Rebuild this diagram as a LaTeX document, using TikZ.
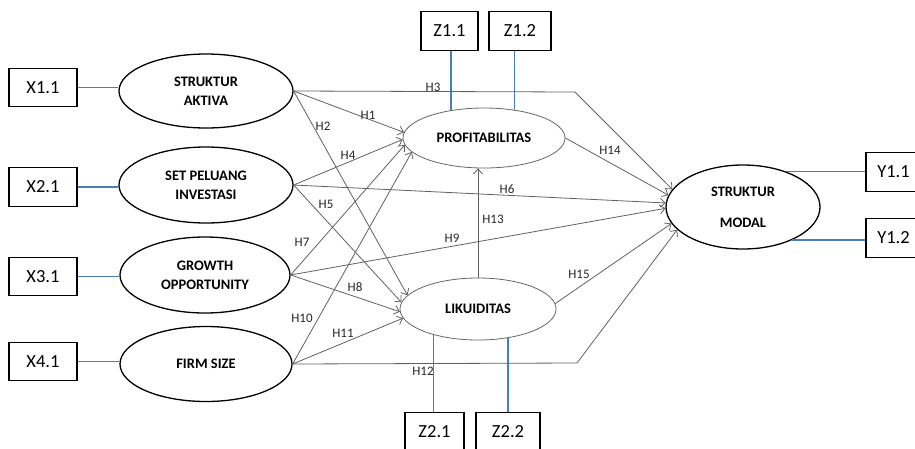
\documentclass[tikz,border=0pt]{standalone}
\usepackage{fontspec}
\setmainfont{Carlito}
\usetikzlibrary{shapes.geometric,arrows.meta}
\definecolor{loadblue}{HTML}{4A7EBB}
\begin{document}
\begin{tikzpicture}[x=1pt,y=-1pt,
    latent/.style={ellipse,draw,line width=1.3pt,inner sep=0pt,align=center,
      font=\fontsize{14.5}{19}\selectfont\bfseries},
    mediator/.style={latent,draw=black!60,line width=0.8pt},
    indicator/.style={draw,line width=1.2pt,inner sep=0pt,minimum height=38.5pt,
      font=\fontsize{18.5}{20}\selectfont},
    path/.style={draw=black!62,line width=0.8pt,-{Straight Barb[length=5pt,width=9pt]}},
    loading/.style={draw=loadblue,line width=1.5pt},
    hyp/.style={inner sep=1pt,text=black!85,font=\fontsize{13}{13}\selectfont}]
  \useasboundingbox (0,0) rectangle (915,448);
  % constructs
  \node[latent,minimum width=174pt,minimum height=74pt] (sa) at (206,91) {STRUKTUR\\AKTIVA};
  \node[latent,minimum width=174pt,minimum height=76pt] (spi) at (206,185) {SET PELUANG\\INVESTASI};
  \node[latent,minimum width=170pt,minimum height=76pt] (go) at (205,275) {GROWTH\\OPPORTUNITY};
  \node[latent,minimum width=172pt,minimum height=75pt] (fs) at (206,364) {FIRM SIZE};
  \node[mediator,minimum width=162pt,minimum height=60pt] (prof) at (484,138) {PROFITABILITAS};
  \node[mediator,minimum width=156pt,minimum height=62pt] (lik) at (478,309) {LIKUIDITAS};
  \node[latent,minimum width=154pt,minimum height=84pt] (sm) at (743,207) {STRUKTUR\\[12pt]MODAL};
  % indicators
  \node[indicator,minimum width=68pt] (x1) at (43,87.5) {X1.1};
  \node[indicator,minimum width=68pt] (x2) at (43,187) {X2.1};
  \node[indicator,minimum width=68pt] (x3) at (43,276.5) {X3.1};
  \node[indicator,minimum width=68pt] (x4) at (43,361.5) {X4.1};
  \node[indicator,minimum width=57pt] (z11) at (449.5,31) {Z1.1};
  \node[indicator,minimum width=62pt] (z12) at (520,31) {Z1.2};
  \node[indicator,minimum width=59pt] (z21) at (434.5,432) {Z2.1};
  \node[indicator,minimum width=64pt] (z22) at (508,432) {Z2.2};
  \node[indicator,minimum width=55pt] (y11) at (893.5,172) {Y1.1};
  \node[indicator,minimum width=55pt] (y12) at (893.5,238) {Y1.2};
  \begin{scope}[loading]
    \draw (x1.east) -- (x1.east -| sa.west);
    \draw (x2.east) -- (x2.east -| spi.west);
    \draw (x3.east) -- (x3.east -| go.west);
    \draw (x4.east) -- (x4.east -| fs.west);
    \draw (prof.140) -- (prof.140 |- z11.south);
    \draw (prof.43) -- (prof.43 |- z12.south);
    \draw (lik.210) -- (lik.210 |- z21.north);
    \draw (lik.316) -- (lik.316 |- z22.north);
    \draw (sm.40) -- (sm.40 -| y11.west);
    \draw (sm.326) -- (sm.326 -| y12.west);
  \end{scope}
  % hypotheses
  \coordinate (k3) at (575,92);
  \coordinate (k12) at (577,363);
  \begin{scope}[path]
    \draw (sa.east) -- (prof.176);
    \draw (sa.east) -- (lik.169);
    \draw (sa.east) -- (k3) -- (sm.166);
    \draw (spi.east) -- (prof.181);
    \draw (spi.east) -- (lik.175);
    \draw (spi.east) -- (sm.177);
    \draw (go.east) -- (prof.185);
    \draw (go.east) -- (lik.182);
    \draw (go.east) -- (sm.181);
    \draw (fs.east) -- (prof.191);
    \draw (fs.east) -- (lik.187);
    \draw (fs.east) -- (k12) -- (sm.199);
    \draw (lik.north) -- (lik.north |- prof.south);
    \draw (prof.east) -- (sm.171);
    \draw (lik.4) -- (sm.193);
  \end{scope}
  \node[hyp] (h1) at (368,115) {H1};
  \node[hyp] (h2) at (323,126) {H2};
  \node[hyp] (h3) at (433,87) {H3};
  \node[hyp] (h4) at (348,155) {H4};
  \node[hyp] (h5) at (326,204) {H5};
  \node[hyp] (h6) at (507,189) {H6};
  \node[hyp] (h7) at (302,242) {H7};
  \node[hyp] (h8) at (355,287) {H8};
  \node[hyp] (h9) at (452,238) {H9};
  \node[hyp] (h10) at (302,318) {H10};
  \node[hyp] (h11) at (343,333) {H11};
  \node[hyp] (h12) at (423,371) {H12};
  \node[hyp] (h13) at (493,219) {H13};
  \node[hyp] (h14) at (610,150) {H14};
  \node[hyp] (h15) at (579,274) {H15};
\end{tikzpicture}
\end{document}
